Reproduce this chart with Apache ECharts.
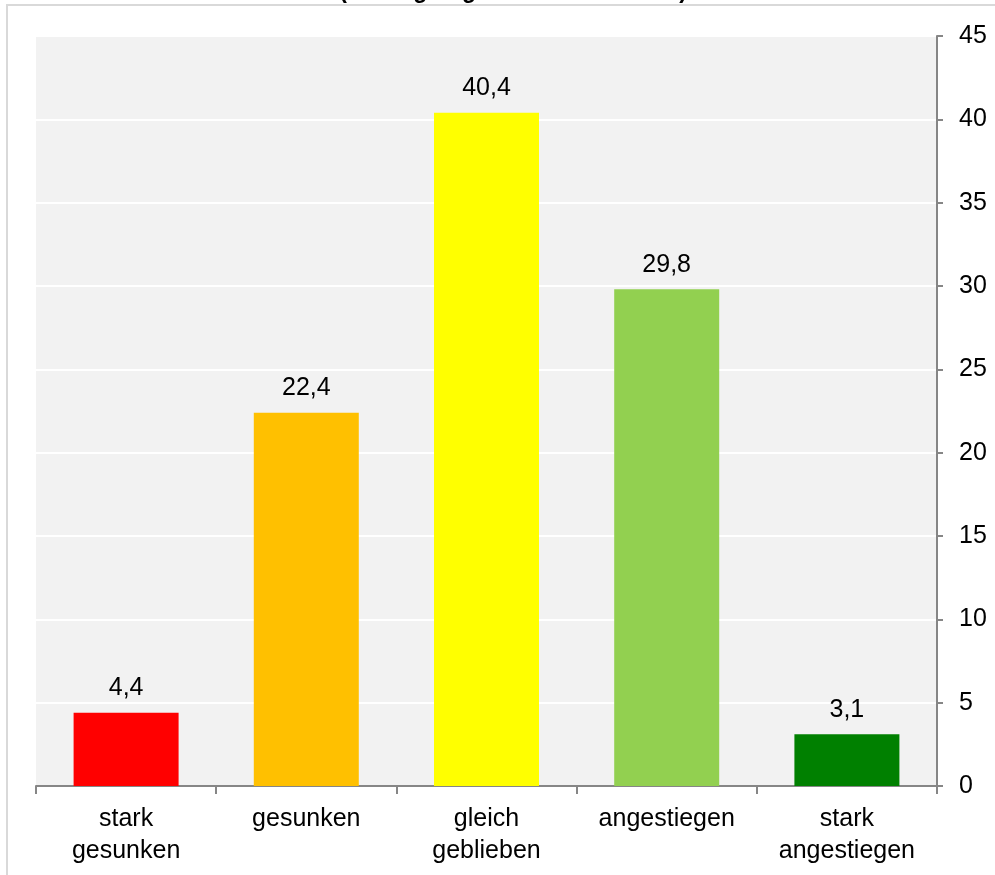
<!DOCTYPE html>
<html>
<head>
<meta charset="utf-8">
<script src="https://cdn.jsdelivr.net/npm/echarts@6/dist/echarts.min.js"></script>
<style>
  html, body { margin: 0; padding: 0; background: #fff; }
  #chart { width: 995px; height: 875px; }
</style>
</head>
<body>
<div id="chart"></div>
<script>
// Werte aus der Grafik
const categories = ['stark\ngesunken', 'gesunken', 'gleich\ngeblieben', 'angestiegen', 'stark\nangestiegen'];
const values = [4.4, 22.4, 40.4, 29.8, 3.1];
const barColors = ['#ff0000', '#ffc000', '#ffff00', '#92d050', '#008000'];
const titleText = '(Umfrageergebnisse in Prozent)';

const chart = echarts.init(document.getElementById('chart'));

const fmt = v => String(v).replace('.', ',');

chart.setOption({
  animation: false,
  textStyle: { fontFamily: 'Liberation Sans, Arial, sans-serif' },
  title: {
    text: titleText,
    left: 508,
    textAlign: 'center',
    top: -25,
    textStyle: { fontSize: 23, fontWeight: 'bold', color: '#000' }
  },
  graphic: [{
    type: 'rect',
    z: -10,
    shape: { x: 7, y: 5, width: 1000, height: 900 },
    style: { fill: 'none', stroke: '#d9d9d9', lineWidth: 2 }
  }],
  grid: {
    left: 36,
    right: 58,
    top: 36,
    bottom: 89,
    show: true,
    backgroundColor: '#f2f2f2',
    borderWidth: 0
  },
  xAxis: {
    type: 'category',
    data: categories,
    axisLine: { lineStyle: { color: '#868686', width: 2 } },
    axisTick: { show: true, length: 8, lineStyle: { color: '#868686', width: 2 } },
    axisLabel: {
      color: '#000',
      fontSize: 25,
      lineHeight: 32,
      margin: 17,
      interval: 0
    }
  },
  yAxis: {
    type: 'value',
    position: 'right',
    min: 0,
    max: 45,
    interval: 5,
    axisLine: { show: true, lineStyle: { color: '#868686', width: 2 } },
    axisTick: { show: true, length: 6, lineStyle: { color: '#868686', width: 2 } },
    axisLabel: { color: '#000', fontSize: 25, margin: 22 },
    splitLine: { show: true, lineStyle: { color: '#ffffff', width: 2 } }
  },
  series: [{
    type: 'bar',
    barWidth: 105,
    data: values.map((v, i) => ({ value: v, itemStyle: { color: barColors[i] } })),
    label: {
      show: true,
      position: 'top',
      distance: 12,
      color: '#000',
      fontSize: 25,
      formatter: p => fmt(p.value)
    }
  }]
});
</script>
</body>
</html>
